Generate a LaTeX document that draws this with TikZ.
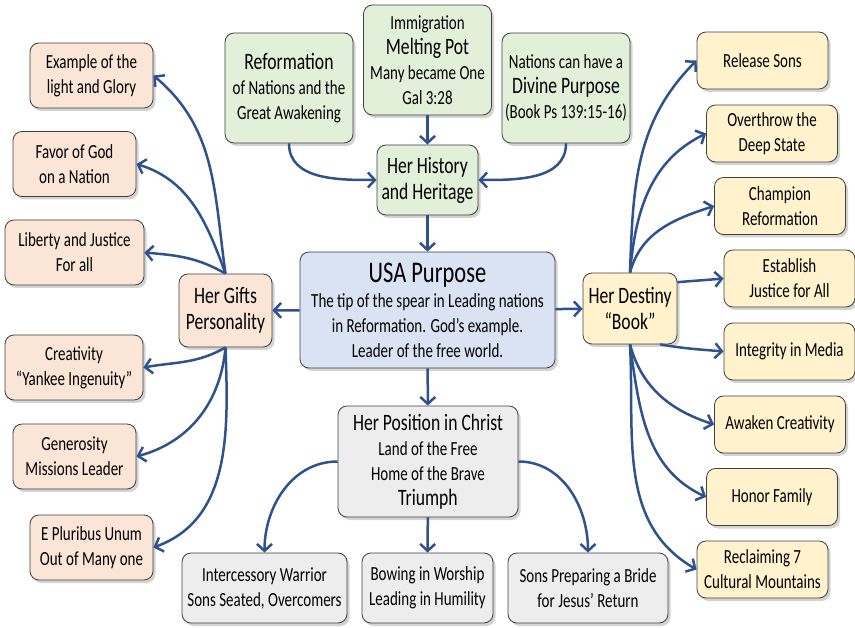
\documentclass[tikz,border=0pt]{standalone}
\usepackage{fontspec}
\setmainfont{Carlito}[FakeStretch=0.75]
\usepackage{tikz}
\usetikzlibrary{arrows.meta,shadows}

\definecolor{giftfill}{HTML}{FBE5D6}
\definecolor{pastfill}{HTML}{E2F0D9}
\definecolor{mainfill}{HTML}{DAE3F3}
\definecolor{bookfill}{HTML}{FFF2CC}
\definecolor{christfill}{HTML}{EDEDED}
\definecolor{linkblue}{HTML}{2F528F}

\newcommand\medtext{\fontsize{23.5}{26}\selectfont}
\newcommand\bigtext{\fontsize{30}{30}\selectfont}

\begin{document}
\begin{tikzpicture}[x=1pt,y=-1pt,
  box/.style={draw=black!75, line width=0.8pt, rounded corners=9pt, align=center,
    inner sep=1pt, font=\fontsize{20}{25}\selectfont,
    drop shadow={shadow xshift=2.5pt,shadow yshift=-3pt,opacity=0.35}},
  gift/.style={box, fill=giftfill, minimum width=123pt, minimum height=65pt},
  past/.style={box, fill=pastfill, minimum width=128pt, minimum height=110pt},
  book/.style={box, fill=bookfill, minimum width=131pt, minimum height=57pt},
  christ/.style={box, fill=christfill, minimum height=70pt},
  link/.style={draw=linkblue, line width=2.5pt, -{Straight Barb[length=7pt,width=15pt]}}]
  \useasboundingbox (0,0) rectangle (855,628);

  % centre
  \node[box, fill=mainfill, minimum width=255pt, minimum height=116pt] (usa) at (427.5,310)
    {{\bigtext USA Purpose}\\The tip of the spear in Leading nations\\in Reformation. God’s example.\\Leader of the free world.};

  % history
  \node[past] (reform) at (289,88) {{\medtext Reformation}\\of Nations and the\\Great Awakening};
  \node[past] (melting) at (427.5,60) {Immigration\\{\medtext Melting Pot}\\Many became One\\Gal 3:28};
  \node[past] (divine) at (566,88) {Nations can have a\\{\medtext Divine Purpose}\\(Book Ps 139:15-16)};
  \node[box, fill=pastfill, minimum width=101pt, minimum height=70pt, font=\medtext] (history) at (427.5,180) {Her History\\and Heritage};

  % gifts
  \node[box, fill=giftfill, minimum width=93pt, minimum height=73pt, font=\medtext] (gifts) at (225.5,310.5) {Her Gifts\\Personality};
  \node[gift] (example) at (91.5,75.5) {Example of the\\light and Glory};
  \node[gift] (favor) at (74.5,164) {Favor of God\\on a Nation};
  \node[gift, minimum width=139pt] (liberty) at (74.5,252.5) {Liberty and Justice\\For all};
  \node[gift, minimum width=138pt] (creative) at (74,367.5) {Creativity\\“Yankee Ingenuity”};
  \node[gift] (generous) at (74.5,456.5) {Generosity\\Missions Leader};
  \node[gift] (unum) at (91.5,547.5) {E Pluribus Unum\\Out of Many one};

  % destiny
  \node[box, fill=bookfill, minimum width=94pt, minimum height=71pt, font=\medtext] (destiny) at (630,308.5) {Her Destiny\\“Book”};
  \node[book] (release) at (762.5,60.5) {Release Sons};
  \node[book] (overthrow) at (772,133.5) {Overthrow the\\Deep State};
  \node[book] (champion) at (780,206) {Champion\\Reformation};
  \node[book] (justice) at (789.5,278.5) {Establish\\Justice for All};
  \node[book] (media) at (789.5,351.5) {Integrity in Media};
  \node[book] (awaken) at (780,424.5) {Awaken Creativity};
  \node[book] (family) at (772,497) {Honor Family};
  \node[book] (mountains) at (762.5,569.5) {Reclaiming 7\\Cultural Mountains};

  % position
  \node[box, fill=christfill, minimum width=180pt, minimum height=111pt] (position) at (428,461.5)
    {{\medtext Her Position in Christ}\\Land of the Free\\Home of the Brave\\{\medtext Triumph}};
  \node[christ, minimum width=165pt] (warrior) at (264.5,588) {Intercessory Warrior\\Sons Seated, Overcomers};
  \node[christ, minimum width=131pt] (worship) at (427.5,588) {Bowing in Worship\\Leading in Humility};
  \node[christ, minimum width=160pt] (bride) at (588,588) {Sons Preparing a Bride\\for Jesus’ Return};

  % connectors
  \draw[link] (melting) -- (history);
  \draw[link] (reform.south) to[out=-90,in=180] (history.west);
  \draw[link] (divine.south) to[out=-90,in=0] (history.east);
  \draw[link] (history) -- (usa);
  \draw[link] (usa) -- (gifts);
  \draw[link] (usa) -- (destiny);
  \draw[link] (usa) -- (position);

  \draw[link] (gifts.north) to[out=98,in=-40] (example.east);
  \draw[link] (gifts.north) to[out=110,in=-17] (favor.east);
  \draw[link] (gifts.north) to[out=150,in=-5] (liberty.east);
  \draw[link] (gifts.south) to[out=-150,in=10] (creative.east);
  \draw[link] (gifts.south) to[out=-95,in=15] (generous.east);
  \draw[link] (gifts.south) to[out=-88,in=20] (unum.east);

  \draw[link] (destiny.north) to[out=88,in=-135] (release.west);
  \draw[link] (destiny.north) to[out=85,in=-154] (overthrow.west);
  \draw[link] (destiny.north) to[out=75,in=-162] (champion.west);
  \draw[link] (destiny.29) to[out=5,in=185] (justice.west);
  \draw[link] (destiny.-50) to[out=-10,in=175] (media.west);
  \draw[link] (destiny.south) to[out=-75,in=162] (awaken.west);
  \draw[link] (destiny.south) to[out=-82,in=155] (family.west);
  \draw[link] (destiny.south) to[out=-87,in=150] (mountains.west);

  \draw[link] (position.west) to[out=180,in=90] (warrior.north);
  \draw[link] (position) -- (worship);
  \draw[link] (position.east) to[out=0,in=90] (bride.north);
\end{tikzpicture}
\end{document}
